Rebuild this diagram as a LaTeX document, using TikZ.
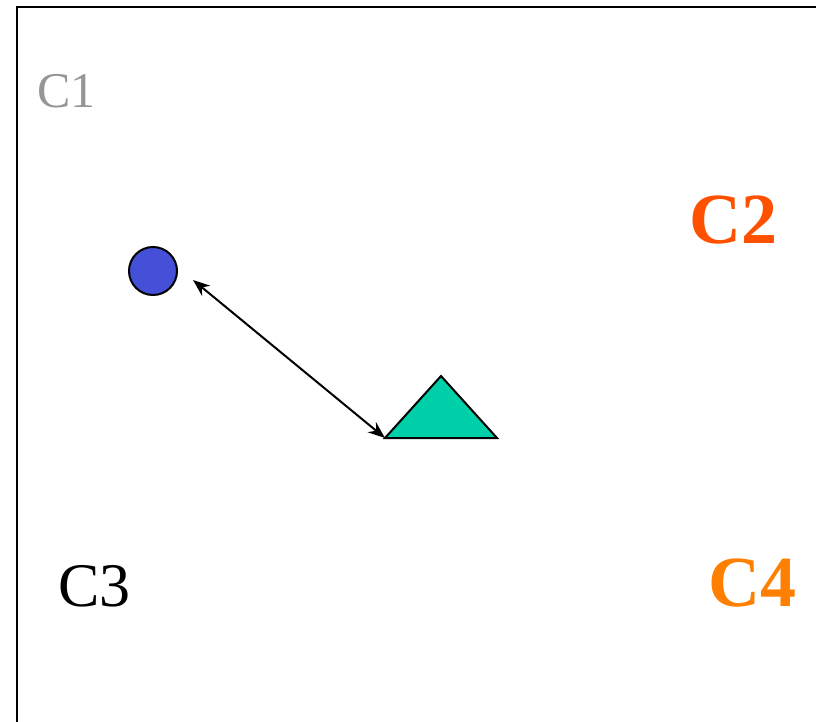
\documentclass[tikz,border=0pt]{standalone}
\usepackage{fontspec}
\setmainfont{Liberation Serif}
\usepackage{tikz}
\usetikzlibrary{arrows.meta,positioning}
\definecolor{grayC}{RGB}{150,150,150}
\definecolor{redC}{RGB}{255,80,0}
\definecolor{orangeC}{RGB}{255,128,0}
\definecolor{dotblue}{RGB}{68,80,216}
\definecolor{trigreen}{RGB}{0,208,170}

\begin{document}
\begin{tikzpicture}[
    x=1pt, y=-1pt,
    lbl/.style={anchor=base west, inner sep=0pt},
    frame/.style={line width=2.5pt},
    link/.style={line width=2pt, {Stealth[length=17pt,width=13pt]}-{Stealth[length=17pt,width=13pt]}}
]
\useasboundingbox (0,0) rectangle (816,722);

% Frame (only top and left edges show)
\draw[frame] (17,722) -- (17,7) -- (817,7);

% Cluster labels
\node[lbl, text=grayC, font=\fontsize{50}{50}\selectfont] (c1) at (37,108) {C1};
\node[lbl, text=redC, font=\fontsize{72}{72}\selectfont\bfseries] (c2) at (689,243) {C2};
\node[lbl, text=black, font=\fontsize{62}{62}\selectfont] (c3) at (58,606) {C3};
\node[lbl, text=orangeC, font=\fontsize{72}{72}\selectfont\bfseries] (c4) at (708,606) {C4};

% Point and triangle
\node[circle, draw, fill=dotblue, line width=2pt, minimum size=48pt, inner sep=0pt] (dot) at (153,271) {};
\draw[fill=trigreen, line width=2pt, line join=miter] (385,438) -- (441,376) -- (497,438) -- cycle;
\coordinate (triL) at (385,438);
\coordinate (dotR) at (193,280);

% Distance
\draw[link] (dotR) -- (triL);
\end{tikzpicture}
\end{document}
